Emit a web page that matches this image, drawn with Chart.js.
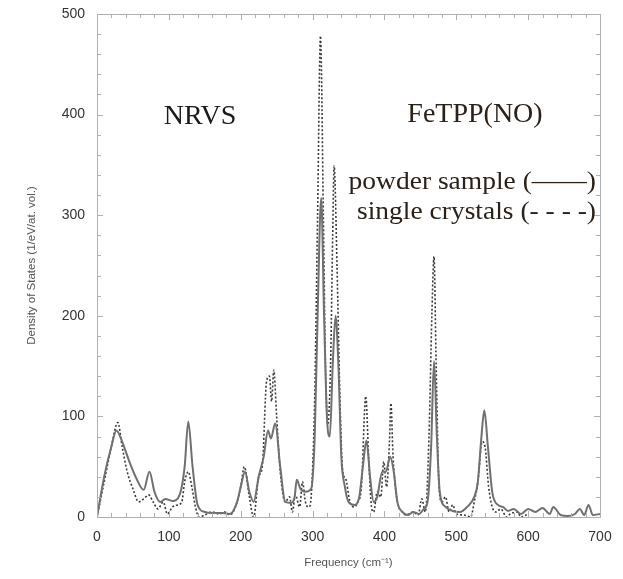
<!DOCTYPE html>
<html><head><meta charset="utf-8">
<script src="https://cdn.jsdelivr.net/npm/chart.js@4.4.1/dist/chart.umd.min.js"></script>
<style>html,body{margin:0;padding:0;background:#fff}#c{display:block}</style>
</head><body>
<canvas id="c" width="623" height="579"></canvas>
<script>
const powderFreq = [0,10,20,27,35,45,55,65,73,80,88,95,105,115,122,127,133,140,150,160,175,185,195,200,206,212,218,225,232,238,242,248,255,262,270,275,278,283,290,298,303,307,312,316,320,324,328,332,336,340,345,350,358,365,370,375,380,385,390,397,402,408,413,418,425,433,440,448,455,460,465,469,473,477,485,495,505,515,525,530,535,539,544,550,558,565,572,580,590,600,610,620,630,635,645,655,665,672,678,684,690,700];
const powderDOS  = [0,40,70,86,75,55,38,27,45,25,15,18,16,22,50,95,50,12,5,4,4,3,15,30,45,25,15,40,60,86,78,93,50,15,14,20,37,28,25,28,80,200,317,200,100,80,150,200,150,60,30,15,12,20,50,76,40,15,20,45,45,60,45,15,5,2,5,3,8,15,70,155,80,25,10,6,5,10,20,35,80,106,70,25,12,10,6,8,3,8,5,9,3,10,2,1,3,8,2,12,2,3];
const crystalFreq = [0,10,20,29,35,42,50,58,65,72,78,85,92,98,105,112,118,122,127,132,137,142,150,160,170,178,185,195,200,205,212,218,225,230,236,240,243,246,250,255,262,268,272,276,282,286,290,295,298,303,307,311,315,318,321,325,328,330,334,338,342,346,352,358,363,368,374,378,382,385,390,395,399,403,407,409,412,416,420,425,430,440,447,452,457,462,466,469,472,476,480,485,490,495,500,510,520,525,530,536,540,545,550,555,562,570,575,585,590,600];
const crystalDOS  = [0,35,70,94,70,45,28,15,18,22,15,8,15,3,10,12,15,35,45,30,10,0,2,5,3,5,2,15,30,50,20,0,40,50,135,140,115,146,100,45,15,20,5,22,10,35,15,10,20,120,300,478,300,150,92,150,280,349,250,120,45,38,15,10,15,30,120,60,10,5,25,20,55,30,75,113,60,25,10,5,2,5,2,18,5,80,200,259,150,30,15,20,5,12,3,2,0,15,35,75,70,30,10,5,8,0,3,5,0,3];
const xTicks = [0,100,200,300,400,500,600,700];
const yTicks = [0,100,200,300,400,500];

const toPts = (xs, ys) => xs.map((x, i) => ({x, y: ys[i]}));

function squishText(ctx, txt, x, yBase, sy) {
  ctx.save();
  ctx.translate(x, yBase);
  ctx.scale(1, sy);
  ctx.fillText(txt, 0, 0);
  ctx.restore();
}

const framePlugin = {
  id: 'frame',
  afterDatasetsDraw(chart) {
    const {ctx, chartArea: a, scales: {x, y}} = chart;
    ctx.save();
    ctx.strokeStyle = '#b0b0b0';
    ctx.lineWidth = 1;
    ctx.strokeRect(a.left + 0.5, a.top + 0.5, a.right - a.left, a.bottom - a.top);
    ctx.beginPath();
    for (let v = 0; v <= 700; v += 20) {
      const px = Math.round(x.getPixelForValue(v)) + 0.5;
      const L = v % 100 === 0 ? 6 : 4;
      ctx.moveTo(px, a.bottom); ctx.lineTo(px, a.bottom - L);
      ctx.moveTo(px, a.top); ctx.lineTo(px, a.top + L);
    }
    for (let v = 0; v <= 500; v += 20) {
      const py = Math.round(y.getPixelForValue(v)) + 0.5;
      const L = v % 100 === 0 ? 6 : 4;
      ctx.moveTo(a.left, py); ctx.lineTo(a.left + L, py);
      ctx.moveTo(a.right, py); ctx.lineTo(a.right - L, py);
    }
    ctx.stroke();
    ctx.restore();
  },
  afterDraw(chart) {
    const {ctx} = chart;
    ctx.save();
    ctx.fillStyle = '#1a1a1a';
    ctx.textBaseline = 'alphabetic';
    ctx.font = '28px "Liberation Serif"';
    ctx.textAlign = 'center';
    ctx.fillText('NRVS', 200, 124);
    ctx.fillStyle = '#2b2118';
    ctx.fillText('FeTPP(NO)', 475, 122);
    ctx.font = '27.5px "Liberation Serif"';
    ctx.textAlign = 'right';
    squishText(ctx, 'powder sample (\u2014\u2014)', 596, 189, 0.88);
    squishText(ctx, 'single crystals (- - - -)', 596, 219, 0.88);
    ctx.restore();
  }
};

new Chart(document.getElementById('c'), {
  type: 'line',
  data: {
    datasets: [
      { label: 'powder sample', data: toPts(powderFreq, powderDOS), borderColor: '#707070', borderWidth: 2,
        pointRadius: 0, fill: false, cubicInterpolationMode: 'monotone' },
      { label: 'single crystals', data: toPts(crystalFreq, crystalDOS), borderColor: '#3a3a3a', borderWidth: 1.6,
        borderDash: [2, 2], pointRadius: 0, fill: false, cubicInterpolationMode: 'monotone' }
    ]
  },
  options: {
    responsive: false, animation: false,
    layout: { padding: { top: 14, right: 23, left: 0, bottom: 0 } },
    plugins: { legend: { display: false }, tooltip: { enabled: false } },
    scales: {
      x: {
        type: 'linear', min: 0, max: 700,
        afterBuildTicks: s => { s.ticks = xTicks.map(v => ({value: v})); },
        afterFit: s => { s.height = 62; s.paddingLeft = 0; s.paddingRight = 0; },
        grid: { display: false, drawTicks: false }, border: { display: false },
        ticks: { padding: 12, color: '#333', font: { family: 'Liberation Sans', size: 14 }, maxRotation: 0 },
        title: { display: true, text: 'Frequency (cm\u207B\u00B9)', color: '#555', font: { family: 'Liberation Sans', size: 11.5 }, padding: { top: 0, bottom: 9 } }
      },
      y: {
        type: 'linear', min: 0, max: 500,
        afterBuildTicks: s => { s.ticks = yTicks.map(v => ({value: v})); },
        afterFit: s => { s.width = 97; s.paddingTop = 0; s.paddingBottom = 0; },
        grid: { display: false, drawTicks: false }, border: { display: false },
        ticks: { padding: 12, color: '#333', font: { family: 'Liberation Sans', size: 14 } },
        title: { display: true, text: 'Density of States (1/eV/at. vol.)', color: '#555', font: { family: 'Liberation Sans', size: 11.5 }, padding: { top: 25, bottom: 0 } }
      }
    }
  },
  plugins: [framePlugin]
});
</script>
</body></html>
